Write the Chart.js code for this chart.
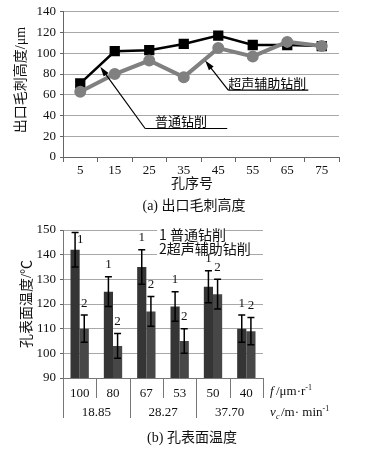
<!DOCTYPE html>
<html>
<head>
<meta charset="utf-8">
<script src="https://cdn.jsdelivr.net/npm/chart.js@4.4.0/dist/chart.umd.min.js"></script>
<style>
  body { margin: 0; background: #fff; width: 368px; height: 452px; position: relative; overflow: hidden;
         font-family: "Liberation Serif", "Noto Sans CJK SC", serif; color: #111; }
  canvas { position: absolute; left: 0; }
  #burrChart { top: 0; }
  #tempChart { top: 210px; }
  .t { position: absolute; white-space: nowrap; font-size: 14px; line-height: 1; transform: translate(-50%, -50%); }
  .rot { transform: translate(-50%, -50%) rotate(-90deg); }
</style>
</head>
<body>
<canvas id="burrChart" width="368" height="198"></canvas>
<canvas id="tempChart" width="368" height="242"></canvas>

<div class="t rot" style="left:21px;top:80px">出口毛刺高度/μm</div>
<div class="t" style="left:192px;top:184px">孔序号</div>
<div class="t" style="left:194px;top:206px">(a) 出口毛刺高度</div>
<div class="t rot" style="left:27px;top:304px">孔表面温度/℃</div>
<div class="t" style="left:192px;top:438px">(b) 孔表面温度</div>

<script>
// ---------- Dados (a) ----------
const holeLabels = ['5', '15', '25', '35', '45', '55', '65', '75'];
const burrNormal = [71, 102, 103, 109, 117, 108, 108, 107];   // 普通钻削
const burrUltra  = [63, 80, 93, 77, 105, 97, 111, 107];       // 超声辅助钻削

// ---------- Dados (b) ----------
const feedLabels  = ['100', '80', '67', '53', '50', '40'];
const speedLabels = ['18.85', '28.27', '37.70'];
const tempNormal  = [142, 125, 135, 119, 127, 110];
const tempUltra   = [110, 103, 117, 105, 124, 109];
const errNormal   = [7, 6, 7, 6, 6.5, 5.5];
const errUltra    = [5.5, 5, 6, 5, 6, 5.5];

const serif = "'Liberation Serif', serif";
const cjk = "'Noto Sans CJK SC', 'Liberation Serif', sans-serif";
const tickFont = { family: "'Liberation Serif', serif", size: 13 };
Chart.defaults.font.family = serif;
Chart.defaults.color = '#111';

function arrow(ctx, x0, y0, x1, y1) {
  const a = Math.atan2(y1 - y0, x1 - x0);
  ctx.beginPath();
  ctx.moveTo(x0, y0);
  ctx.lineTo(x1 - 7 * Math.cos(a), y1 - 7 * Math.sin(a));
  ctx.stroke();
  ctx.beginPath();
  ctx.moveTo(x1, y1);
  ctx.lineTo(x1 - 10 * Math.cos(a) + 3 * Math.sin(a), y1 - 10 * Math.sin(a) - 3 * Math.cos(a));
  ctx.lineTo(x1 - 10 * Math.cos(a) - 3 * Math.sin(a), y1 - 10 * Math.sin(a) + 3 * Math.cos(a));
  ctx.closePath();
  ctx.fill();
}

// ---------- Anotações do gráfico (a) ----------
const notesPlugin = {
  id: 'notes',
  afterDatasetsDraw(chart) {
    const { ctx, scales: { x, y } } = chart;
    ctx.save();
    ctx.strokeStyle = '#000';
    ctx.fillStyle = '#000';
    ctx.lineWidth = 1.2;
    ctx.font = '13px ' + cjk;
    ctx.textBaseline = 'middle';

    // 超声辅助钻削 -> linha cinza
    ctx.fillText('超声辅助钻削', x.getPixelForValue(4.29), y.getPixelForValue(71));
    ctx.beginPath();
    ctx.moveTo(x.getPixelForValue(4.29), y.getPixelForValue(64.5));
    ctx.lineTo(x.getPixelForValue(6.61), y.getPixelForValue(64.5));
    ctx.stroke();
    arrow(ctx, x.getPixelForValue(4.29), y.getPixelForValue(64.5), x.getPixelForValue(3.62), y.getPixelForValue(93));

    // 普通钻削 -> linha preta
    ctx.fillText('普通钻削', x.getPixelForValue(2.17), y.getPixelForValue(35));
    ctx.beginPath();
    ctx.moveTo(x.getPixelForValue(1.88), y.getPixelForValue(27.5));
    ctx.lineTo(x.getPixelForValue(4.26), y.getPixelForValue(27.5));
    ctx.stroke();
    arrow(ctx, x.getPixelForValue(1.88), y.getPixelForValue(27.5), x.getPixelForValue(0.58), y.getPixelForValue(87));
    ctx.restore();
  }
};

new Chart(document.getElementById('burrChart'), {
  type: 'line',
  data: {
    labels: holeLabels,
    datasets: [
      { label: '普通钻削', data: burrNormal, borderColor: '#000', backgroundColor: '#000', borderWidth: 2.5,
        pointStyle: 'rect', pointRadius: 5.5, tension: 0, order: 2 },
      { label: '超声辅助钻削', data: burrUltra, borderColor: '#808080', backgroundColor: '#808080', borderWidth: 4,
        pointStyle: 'circle', pointRadius: 4, tension: 0, order: 1 }
    ]
  },
  options: {
    responsive: false,
    animation: false,
    layout: { padding: { top: 10, right: 29, left: 0, bottom: 0 } },
    plugins: { legend: { display: false }, tooltip: { enabled: false } },
    scales: {
      x: {
        offset: true,
        afterFit(s) { s.height = 41; },
        grid: { offset: true, drawOnChartArea: false, tickLength: 5, color: '#666' },
        border: { color: '#666' },
        ticks: { font: tickFont, padding: 1, maxRotation: 0 }
      },
      y: {
        min: 0, max: 140,
        afterFit(s) { s.width = 63; },
        grid: { color: '#a8a8a8', tickColor: '#666', tickLength: 3 },
        border: { color: '#666' },
        ticks: { stepSize: 20, font: tickFont, padding: 4 }
      }
    }
  },
  plugins: [notesPlugin]
});

// ---------- Barras de erro, rótulos e eixo duplo (b) ----------
const tempPlugin = {
  id: 'tempExtras',
  afterDatasetsDraw(chart) {
    const { ctx, chartArea, scales: { x, y } } = chart;
    const errs = [errNormal, errUltra];
    ctx.save();

    // legenda com fundo branco
    ctx.textAlign = 'left';
    ctx.textBaseline = 'middle';
    ctx.font = '14px ' + cjk;
    ctx.fillStyle = '#fff';
    ctx.fillRect(157, 19, 68, 13);
    ctx.fillRect(157, 32, 92, 15);
    ctx.fillStyle = '#111';
    ctx.fillText('1 普通钻削', 159, 25);
    ctx.fillText('2超声辅助钻削', 159, 39);

    ctx.strokeStyle = '#000';
    ctx.lineWidth = 1.5;
    ctx.font = '13px ' + serif;
    chart.data.datasets.forEach((ds, d) => {
      const meta = chart.getDatasetMeta(d);
      meta.data.forEach((bar, i) => {
        const v = ds.data[i], e = errs[d][i];
        const yt = y.getPixelForValue(v + e), yb = y.getPixelForValue(v - e);
        ctx.beginPath();
        ctx.moveTo(bar.x, yt); ctx.lineTo(bar.x, yb);
        ctx.moveTo(bar.x - 3.5, yt); ctx.lineTo(bar.x + 3.5, yt);
        ctx.moveTo(bar.x - 3.5, yb); ctx.lineTo(bar.x + 3.5, yb);
        ctx.stroke();
        const tag = String(d + 1);
        ctx.textBaseline = 'middle';
        if (yt - 18 < chartArea.top) {
          ctx.textAlign = 'left';
          ctx.fillText(tag, bar.x + 2, yt + 7);
        } else {
          ctx.textAlign = 'center';
          ctx.fillText(tag, bar.x, yt - 12);
        }
      });
    });
    ctx.restore();
  },
  afterDraw(chart) {
    const { ctx, chartArea, scales: { x } } = chart;
    const n = feedLabels.length;
    const w = (chartArea.right - chartArea.left) / n;
    const base = chartArea.bottom;
    ctx.save();
    ctx.strokeStyle = '#777';
    ctx.lineWidth = 1;
    for (let i = 0; i <= n; i++) {
      const xp = Math.round(chartArea.left + i * w) + 0.5;
      const long = i % 2 === 0 && i < n;
      ctx.beginPath();
      ctx.moveTo(xp, base);
      ctx.lineTo(xp, base + (long ? 40 : 20));
      ctx.stroke();
    }
    ctx.fillStyle = '#111';
    ctx.font = '13px ' + serif;
    ctx.textAlign = 'center';
    ctx.textBaseline = 'middle';
    speedLabels.forEach((s, g) => {
      const xc = (x.getPixelForValue(g * 2) + x.getPixelForValue(g * 2 + 1)) / 2;
      ctx.fillText(s, xc, base + 35);
    });
    // unidades
    ctx.textAlign = 'left';
    let xx = chartArea.right + 7;
    ctx.font = 'italic 13px ' + serif;
    ctx.fillText('f', xx, base + 14);
    ctx.font = '13px ' + serif;
    xx += 6;
    ctx.fillText('/μm·r', xx, base + 14);
    xx += ctx.measureText('/μm·r').width;
    ctx.font = '8px ' + serif;
    ctx.fillText('-1', xx, base + 10);

    xx = chartArea.right + 7;
    ctx.font = 'italic 13px ' + serif;
    ctx.fillText('v', xx, base + 35);
    ctx.font = 'italic 8px ' + serif;
    ctx.fillText('c', xx + 6, base + 39);
    ctx.font = '13px ' + serif;
    ctx.fillText('/m· min', xx + 11, base + 35);
    const ww = ctx.measureText('/m· min').width;
    ctx.font = '8px ' + serif;
    ctx.fillText('-1', xx + 11 + ww, base + 31);
    ctx.restore();
  }
};

new Chart(document.getElementById('tempChart'), {
  type: 'bar',
  data: {
    labels: feedLabels,
    datasets: [
      { label: '1 普通钻削', data: tempNormal, backgroundColor: '#353535', barPercentage: 1, categoryPercentage: 0.55 },
      { label: '2超声辅助钻削', data: tempUltra, backgroundColor: '#474747', barPercentage: 1, categoryPercentage: 0.55 }
    ]
  },
  options: {
    responsive: false,
    animation: false,
    layout: { padding: { top: 20, right: 105, left: 0, bottom: 0 } },
    plugins: { legend: { display: false }, tooltip: { enabled: false } },
    scales: {
      x: {
        afterFit(s) { s.height = 74; },
        grid: { display: false },
        border: { color: '#777' },
        ticks: { font: tickFont, padding: 0, maxRotation: 0 }
      },
      y: {
        min: 90, max: 150,
        afterFit(s) { s.width = 63; },
        grid: { color: '#a8a8a8', tickColor: '#666', tickLength: 3 },
        border: { color: '#777' },
        ticks: { stepSize: 10, font: tickFont, padding: 4 }
      }
    }
  },
  plugins: [tempPlugin]
});
</script>
</body>
</html>
